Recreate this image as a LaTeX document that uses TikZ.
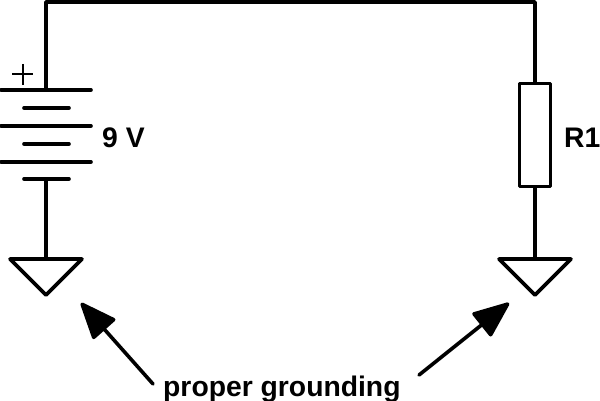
\documentclass[tikz,border=0pt]{standalone}
\usepackage{fontspec}
\setmainfont{Liberation Sans}
\usetikzlibrary{arrows.meta}
\tikzset{
	wire/.style={line width=3.6pt, line cap=round, line join=round},
	pointer/.style={line width=3.6pt, line cap=round, -{Triangle[length=39pt, width=31pt, round]}},
	caption/.style={inner sep=0pt, anchor=base west, font=\fontsize{28.3}{28.3}\selectfont\bfseries}
}
\begin{document}
\begin{tikzpicture}[x=1pt, y=-1pt]
	\useasboundingbox (0,0) rectangle (600,401);

	\coordinate (TL) at (46,2);
	\coordinate (TR) at (535,2);
	\coordinate (P1) at (46,90);
	\coordinate (P6) at (46,179);
	\coordinate (GL) at (46,259);
	\coordinate (GR) at (535,259);

	\node[draw, wire, minimum width=31pt, minimum height=103pt, inner sep=0pt] (R) at (535,135) {};

	\coordinate (A1) at (1,90);
	\coordinate (B1) at (91,90);
	\coordinate (A2) at (24,108);
	\coordinate (B2) at (69,108);
	\coordinate (A3) at (1,126);
	\coordinate (B3) at (91,126);
	\coordinate (A4) at (24,144);
	\coordinate (B4) at (69,144);
	\coordinate (A5) at (1,162);
	\coordinate (B5) at (91,162);
	\coordinate (A6) at (24,179);
	\coordinate (B6) at (69,179);

	\draw[wire] (P1) -- (TL) -- (TR) -- (R.north);
	\draw[wire] (R.south) -- (GR);
	\draw[wire] (P6) -- (GL);

	\draw[wire] (A1) -- (B1);
	\draw[wire] (A2) -- (B2);
	\draw[wire] (A3) -- (B3);
	\draw[wire] (A4) -- (B4);
	\draw[wire] (A5) -- (B5);
	\draw[wire] (A6) -- (B6);

	\coordinate (PW) at (12,74.5);
	\coordinate (PE) at (33,74.5);
	\coordinate (PN) at (22.5,64);
	\coordinate (PS) at (22.5,85);
	\draw[line width=2pt] (PW) -- (PE);
	\draw[line width=2pt] (PN) -- (PS);

	\coordinate (GLa) at (10,259);
	\coordinate (GLb) at (82,259);
	\coordinate (GLc) at (46,295);
	\coordinate (GRa) at (499,259);
	\coordinate (GRb) at (571,259);
	\coordinate (GRc) at (535,295);
	\draw[wire] (GLa) -- (GLb) -- (GLc) -- cycle;
	\draw[wire] (GRa) -- (GRb) -- (GRc) -- cycle;

	\node[caption] (V) at (102,148) {9 V};
	\node[caption] (Rlabel) at (564,148) {R1};
	\node[caption] (PG) at (163,396) {proper grounding};

	\coordinate (TailL) at (153,384);
	\coordinate (TipL) at (81,303);
	\coordinate (TailR) at (419,375);
	\coordinate (TipR) at (509,303);
	\draw[pointer] (TailL) -- (TipL);
	\draw[pointer] (TailR) -- (TipR);
\end{tikzpicture}
\end{document}
